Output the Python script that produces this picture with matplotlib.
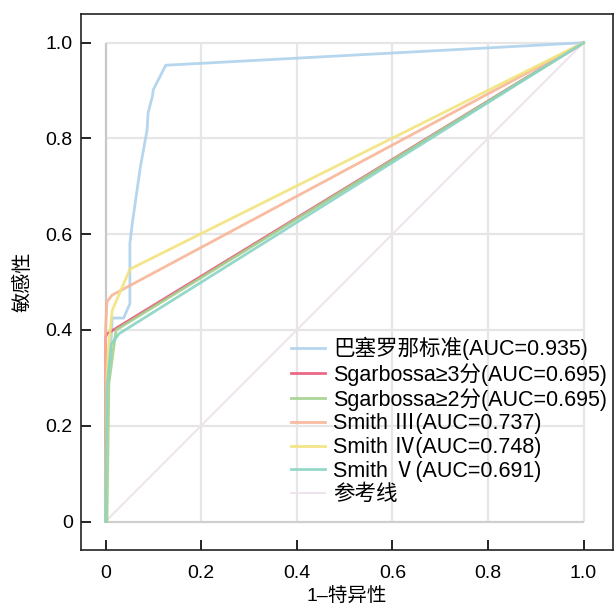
import matplotlib
matplotlib.use("Agg")
import matplotlib.pyplot as plt

plt.rcParams['font.family'] = ['Liberation Sans', 'Noto Sans CJK SC', 'DejaVu Sans']

# ROC curves (1-specificity, sensitivity)
barcelona_x = [0, 0, 0.01, 0.014, 0.038, 0.051, 0.051, 0.056, 0.073, 0.087, 0.089, 0.098, 0.100, 0.126, 1.0]
barcelona_y = [0, 0.30, 0.34, 0.425, 0.425, 0.455, 0.581, 0.623, 0.741, 0.818, 0.853, 0.888, 0.902, 0.953, 1.0]
sg3_x = [0, 0, 0.003, 1.0]
sg3_y = [0, 0.385, 0.392, 1.0]
sg2_x = [0, 0.003, 0.007, 0.022, 1.0]
sg2_y = [0, 0.0, 0.288, 0.40, 1.0]
s3_x = [0, 0, 0.003, 0.014, 1.0]
s3_y = [0, 0.40, 0.459, 0.473, 1.0]
s4_x = [0, 0.003, 0.006, 0.014, 0.051, 1.0]
s4_y = [0, 0.30, 0.36, 0.441, 0.527, 1.0]
s5_x = [0, 0.003, 0.008, 0.012, 0.028, 1.0]
s5_y = [0, 0.28, 0.33, 0.37, 0.392, 1.0]
ref_x = [0, 1]
ref_y = [0, 1]

labels = ['巴塞罗那标准(AUC=0.935)', 'Sgarbossa≥3分(AUC=0.695)', 'Sgarbossa≥2分(AUC=0.695)',
          'Smith Ⅲ(AUC=0.737)', 'Smith Ⅳ(AUC=0.748)', 'Smith Ⅴ(AUC=0.691)', '参考线']
colors = ['#aed2ec', '#e9587a', '#a3d18d', '#f8b597', '#f2e37c', '#8ad4c4', '#eee3ec']

xticks = [0, 0.2, 0.4, 0.6, 0.8, 1.0]
xticklabels = ['0', '0.2', '0.4', '0.6', '0.8', '1.0']
yticks = [0, 0.2, 0.4, 0.6, 0.8, 1.0]
yticklabels = ['0', '0.2', '0.4', '0.6', '0.8', '1.0']

fig = plt.figure(figsize=(6.14, 6.11), dpi=100)
ax = fig.add_axes([81/614, 61/611, 532/614, 536/611])

# grid within the unit square
ax.vlines(xticks[1:], 0, 1, colors='#e6e6e6', lw=1.6, zorder=0)
ax.hlines(yticks[1:], 0, 1, colors='#e6e6e6', lw=1.6, zorder=0)
ax.vlines([0], 0, 1, colors='#c8c8c8', lw=1.6, zorder=0)
ax.hlines([0], 0, 1, colors='#cfcfcf', lw=1.6, zorder=0)

series = [(barcelona_x, barcelona_y), (sg3_x, sg3_y), (sg2_x, sg2_y),
          (s3_x, s3_y), (s4_x, s4_y), (s5_x, s5_y)]
ref_h, = ax.plot(ref_x, ref_y, color=colors[6], lw=1.4, label=labels[6], zorder=1)
handles = []
for (xs, ys), c, lab in zip(series, colors[:6], labels[:6]):
    h, = ax.plot(xs, ys, color=c, lw=2.0, label=lab, zorder=2, alpha=0.9)
    handles.append(h)
handles.append(ref_h)

ax.set_xlim(-0.0513, 1.0617)
ax.set_ylim(-0.0595, 1.060)
ax.set_xticks(xticks)
ax.set_xticklabels(xticklabels)
ax.set_yticks(yticks)
ax.set_yticklabels(yticklabels)
ax.tick_params(direction='in', length=7.2, width=1.2, labelsize=14, colors='black')
ax.tick_params(axis='x', pad=11)
ax.tick_params(axis='y', pad=6)
for sp in ax.spines.values():
    sp.set_linewidth(1.2)
    sp.set_color('#222222')

ax.set_xlabel('1–特异性', fontsize=14, labelpad=4)
ax.set_ylabel('敏感性', fontsize=14.5, labelpad=9)

leg = ax.legend(handles, labels, loc='upper left', bbox_to_anchor=(291/614, 1 - 337/611),
                bbox_transform=fig.transFigure, frameon=False, fontsize=15.5,
                handlelength=1.6, handletextpad=0.37, labelspacing=0.12, borderpad=0, borderaxespad=0)

fig.savefig('out.png', dpi=100)
